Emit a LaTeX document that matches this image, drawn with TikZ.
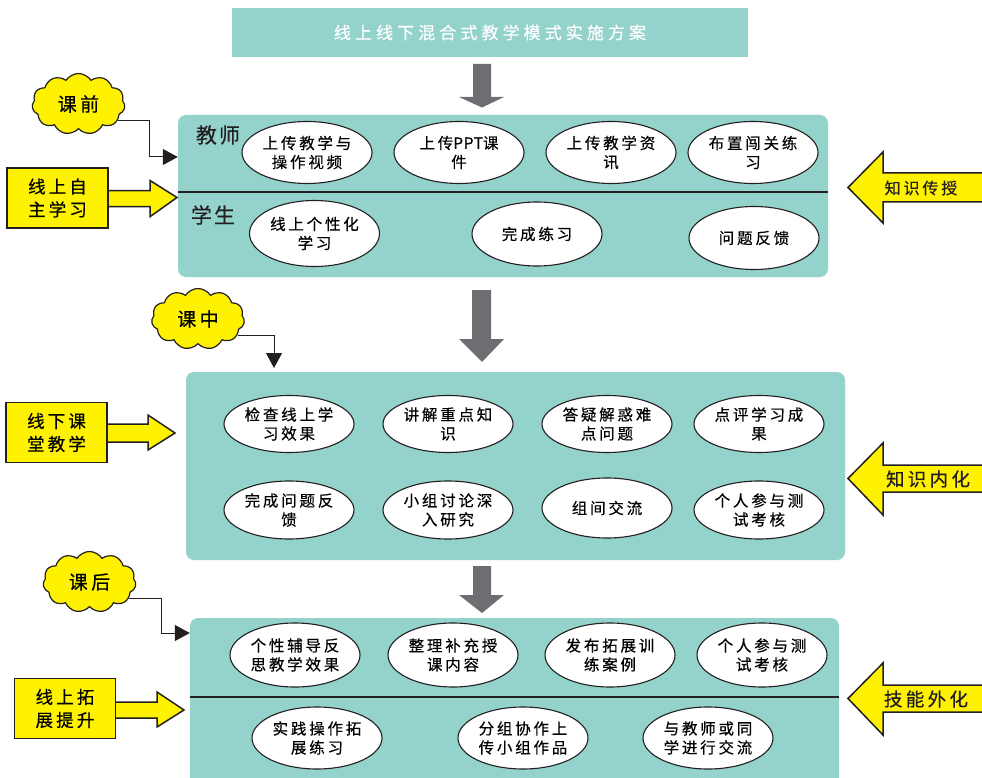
\documentclass[tikz,border=0pt]{standalone}
\usepackage{fontspec}
\setmainfont{Noto Sans CJK SC}
\newfontfamily\cjkE[LetterSpace=18,FakeBold=0.4]{Noto Sans CJK SC}
\newfontfamily\cjkN[LetterSpace=4,FakeBold=0.4]{Noto Sans CJK SC}
\newfontfamily\cjkT[LetterSpace=24,FakeBold=0.3]{Noto Sans CJK SC}
\newfontfamily\cjkL[LetterSpace=10,FakeBold=0.4]{Noto Sans CJK SC}
\usetikzlibrary{shapes.symbols,shapes.geometric,arrows.meta}
\definecolor{tealbg}{RGB}{147,211,203}
\definecolor{yel}{RGB}{255,242,0}
\definecolor{arrgray}{RGB}{109,110,113}
\definecolor{ink}{RGB}{35,31,32}
\tikzset{
  panelbox/.style={fill=tealbg, rounded corners=8pt, inner sep=0pt},
  ell/.style={ellipse, draw=ink, line width=1.1pt, fill=white, minimum width=130pt, minimum height=62pt, inner sep=0pt, align=center, font=\cjkE\fontsize{15.5}{19}\selectfont},
  lbl/.style={font=\cjkL\fontsize{21}{24}\selectfont, text=ink},
  ybox/.style={draw=ink, line width=1.8pt, fill=yel, minimum width=101pt, minimum height=60pt, inner sep=0pt, align=center, font=\cjkE\fontsize{17.5}{23}\selectfont},
  yarrow/.style={draw=ink, line width=1.5pt, fill=yel, line join=miter},
  cloudnode/.style={cloud, cloud puffs=11, cloud puff arc=115, aspect=1.5, draw=ink, line width=1.2pt, fill=yel, minimum width=93pt, minimum height=61pt, inner sep=0pt, font=\cjkE\fontsize{19}{22}\selectfont},
  conn/.style={draw=ink, line width=1pt, -{Triangle[length=15pt,width=16pt]}},
  rtext/.style={font=\cjkE\fontsize{18.5}{22}\selectfont, text=ink},
  grayarrow/.style={fill=arrgray}
}
\begin{document}
\begin{tikzpicture}[x=1pt,y=-1pt]
\useasboundingbox (0,0) rectangle (982,778);
\clip (0,0) rectangle (982,778);

% title
\node[fill=tealbg, minimum width=516pt, minimum height=49pt, inner sep=0pt, text=white, font=\cjkT\fontsize{17}{20}\selectfont] (title) at (490,32.5) {线上线下混合式教学模式实施方案};

% gray block arrows
\fill[grayarrow] (473,64) -- (491,64) -- (491,97) -- (504,97) -- (482,107.5) -- (459,97) -- (473,97) -- cycle;
\fill[grayarrow] (472,290) -- (491,290) -- (491,339) -- (504,339) -- (482,362) -- (459,339) -- (472,339) -- cycle;
\fill[grayarrow] (473,566) -- (491,566) -- (491,595) -- (504,595) -- (482,613) -- (459,595) -- (473,595) -- cycle;

% panels
\node[panelbox, minimum width=650pt, minimum height=162pt] (p1) at (503,196) {};
\node[panelbox, minimum width=659pt, minimum height=188pt] (p2) at (515.5,466) {};
\node[panelbox, minimum width=649pt, minimum height=180pt] (p3) at (514.5,708) {};
\coordinate (d1) at (0,192);
\coordinate (d3) at (0,697);
\draw[ink, line width=2pt] (p1.west |- d1) -- (p1.east |- d1);
\draw[ink, line width=2pt] (p3.west |- d3) -- (p3.east |- d3);

% panel 1
\node[lbl] (teacher) at (218,135) {教师};
\node[lbl] (student) at (213,215) {学生};
\node[ell] (e11) at (307,152.5) {上传教学与\\操作视频};
\node[ell] (e12) at (459,152.5) {上传{\cjkN PPT}课\\件};
\node[ell] (e13) at (611,152.5) {上传教学资\\讯};
\node[ell] (e14) at (753,152.5) {布置闯关练\\习};
\node[ell, minimum height=66pt] (e15) at (314.5,233.5) {线上个性化\\学习};
\node[ell, minimum height=64pt] (e16) at (537,234) {完成练习};
\node[ell, minimum height=63pt] (e17) at (754,238) {问题反馈};

% panel 2
\node[ell, minimum height=57pt] (e21) at (289,424) {检查线上学\\习效果};
\node[ell, minimum height=57pt] (e22) at (448,424) {讲解重点知\\识};
\node[ell, minimum height=57pt] (e23) at (607,424) {答疑解惑难\\点问题};
\node[ell, minimum height=57pt] (e24) at (759,424) {点评学习成\\果};
\node[ell, minimum height=58pt] (e25) at (289,510) {完成问题反\\馈};
\node[ell, minimum height=58pt] (e26) at (448,510) {小组讨论深\\入研究};
\node[ell, minimum height=60pt] (e27) at (607,508) {组间交流};
\node[ell, minimum height=58pt] (e28) at (759,510) {个人参与测\\试考核};

% panel 3
\node[ell, minimum height=64pt] (e31) at (295,655) {个性辅导反\\思教学效果};
\node[ell, minimum height=64pt] (e32) at (453,655) {整理补充授\\课内容};
\node[ell, minimum height=64pt] (e33) at (610,655) {发布拓展训\\练案例};
\node[ell, minimum height=64pt] (e34) at (762,655) {个人参与测\\试考核};
\node[ell, minimum height=62pt] (e35) at (317,738) {实践操作拓\\展练习};
\node[ell, minimum height=62pt] (e36) at (523,738) {分组协作上\\传小组作品};
\node[ell, minimum height=62pt] (e37) at (708,738) {与教师或同\\学进行交流};

% left yellow arrows and boxes
\path[yarrow] (100,190.7) -- (150,190.7) -- (150,180.5) -- (177,197.5) -- (150,216.7) -- (150,206.7) -- (100,206.7) -- cycle;
\node[ybox] (b1) at (57.5,198) {线上自\\主学习};
\path[yarrow] (100,424) -- (148,424) -- (148,415) -- (175,433) -- (148,450) -- (148,442) -- (100,442) -- cycle;
\node[ybox] (b2) at (56.5,432.5) {线下课\\堂教学};
\path[yarrow] (108,702) -- (157,702) -- (157,692) -- (184,710) -- (157,727) -- (157,718) -- (108,718) -- cycle;
\node[ybox] (b3) at (65,708.5) {线上拓\\展提升};

% right yellow arrows
\path[yarrow] (995,173) -- (883,173) -- (883,152) -- (848,187.5) -- (883,223) -- (883,202) -- (995,202);
\node[rtext, font=\cjkE\fontsize{16}{20}\selectfont] (r1) at (921,188) {知识传授};
\path[yarrow] (995,465) -- (883,465) -- (883,443) -- (848,478.5) -- (883,515) -- (883,492) -- (995,492);
\node[rtext] (r2) at (928,479) {知识内化};
\path[yarrow] (995,685) -- (883,685) -- (883,663) -- (848,698.5) -- (883,735) -- (883,712) -- (995,712);
\node[rtext] (r3) at (926,699) {技能外化};

% clouds and connectors
\node[cloudnode] (kq) at (78.5,104) {课前};
\node[cloudnode] (kz) at (198,319) {课中};
\node[cloudnode] (kh) at (89.5,582) {课后};
\coordinate (kqb) at (149,157);
\coordinate (kzb) at (274,368);
\coordinate (khb) at (161,633);
\draw[conn] (kq.-22) -| (kqb) -- (p1.west |- kqb);
\draw[conn] (kz.-22) -| (kzb);
\draw[conn] (kh.-22) -| (khb) -- (p3.west |- khb);
\end{tikzpicture}
\end{document}
